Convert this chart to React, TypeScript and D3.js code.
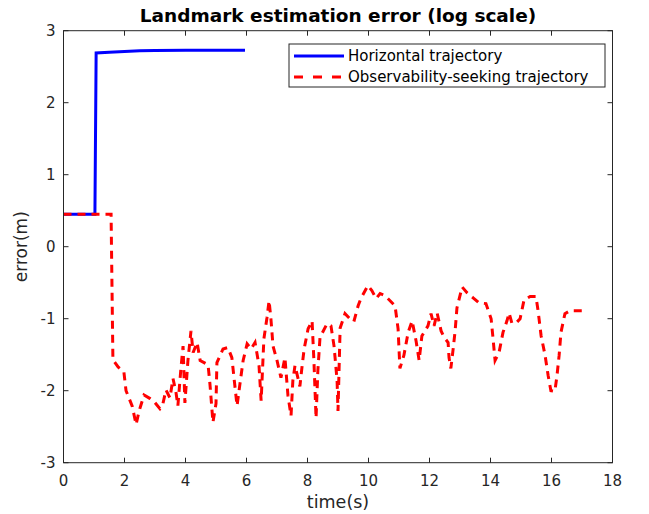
import * as d3 from "d3";
import React, { useEffect, useRef } from "react";

const width = 649;
const height = 514;
const margin = { top: 30.7, right: 36.5, bottom: 51.3, left: 63.5 };

const title = "Landmark estimation error (log scale)";
const xLabel = "time(s)";
const yLabel = "error(m)";
const xTicks = [0, 2, 4, 6, 8, 10, 12, 14, 16, 18];
const yTicks = [-3, -2, -1, 0, 1, 2, 3];
const seriesNames = ["Horizontal trajectory", "Observability-seeking trajectory"];

// horizontal trajectory
const blueTime = [0, 1.03, 1.07, 1.5, 2.0, 2.5, 3.0, 4.0, 5.0, 5.95];
const blueErr = [0.45, 0.45, 2.69, 2.70, 2.71, 2.72, 2.725, 2.73, 2.73, 2.73];

// observability-seeking trajectory
const redTime = [
    0, 1.56, 1.62, 1.79, 1.98, 2.05, 2.25, 2.38, 2.48, 2.64, 2.84, 2.97, 3.16, 3.26, 3.36, 3.49,
    3.59, 3.69, 3.75, 3.85, 3.92, 3.98, 4.08, 4.18, 4.25, 4.38, 4.48, 4.74, 4.8, 4.9, 5.0, 5.03,
    5.23, 5.39, 5.52, 5.59, 5.69, 5.79, 5.89, 6.02, 6.15, 6.28, 6.41, 6.48, 6.57, 6.67, 6.74, 6.8,
    6.87, 7.0, 7.13, 7.26, 7.36, 7.46, 7.52, 7.59, 7.75, 7.82, 7.89, 8.02, 8.15, 8.21, 8.28, 8.34,
    8.41, 8.64, 8.77, 8.87, 8.97, 9.0, 9.07, 9.23, 9.39, 9.52, 9.66, 9.75, 9.98, 10.11, 10.25, 10.38,
    10.54, 10.87, 10.97, 11.0, 11.03, 11.16, 11.3, 11.43, 11.56, 11.66, 11.75, 11.95, 12.05, 12.15,
    12.25, 12.38, 12.48, 12.61, 12.64, 12.7, 12.77, 12.84, 12.9, 13.07, 13.23, 13.43, 13.62, 13.85,
    14.02, 14.08, 14.15, 14.28, 14.41, 14.54, 14.61, 14.7, 14.84, 14.97, 15.1, 15.3, 15.49, 15.56,
    15.66, 15.79, 15.89, 15.98, 16.11, 16.18, 16.25, 16.31, 16.44, 16.61, 17.0,
];
const redErr = [
    0.45, 0.45, -1.57, -1.67, -1.74, -2.0, -2.21, -2.47, -2.28, -2.06, -2.11, -2.15, -2.25, -2.18, -1.99, -2.1,
    -1.83, -2.03, -2.21, -1.69, -1.38, -2.17, -1.58, -1.17, -1.47, -1.33, -1.58, -1.64, -1.9, -2.44, -2.18, -1.61,
    -1.42, -1.4, -1.54, -1.82, -2.21, -1.89, -1.58, -1.35, -1.42, -1.33, -1.65, -2.14, -1.28, -0.99, -0.75, -1.0,
    -1.38, -1.58, -1.82, -1.54, -2.07, -2.35, -1.86, -1.65, -1.94, -1.67, -1.42, -1.14, -1.03, -1.58, -2.38, -1.72,
    -1.26, -1.07, -1.1, -1.38, -1.86, -2.28, -1.13, -0.93, -1.0, -1.04, -0.82, -0.72, -0.54, -0.61, -0.72, -0.65,
    -0.68, -0.82, -1.14, -1.42, -1.69, -1.51, -1.19, -1.03, -1.31, -1.58, -1.24, -1.1, -0.93, -1.1,
    -0.92, -1.17, -1.26, -1.33, -1.54, -1.69, -1.44, -1.17, -0.85, -0.56, -0.64, -0.71, -0.78, -0.79,
    -1.0, -1.26, -1.58, -1.47, -1.19, -1.03, -0.92, -1.06, -1.06, -1.0, -0.74, -0.69, -0.69, -0.89,
    -1.24, -1.51, -1.79, -2.0, -2.01, -1.79, -1.51, -1.19, -0.93, -0.89, -0.89,
];

const axisColor = "#262626";
const font = "'DejaVu Sans', sans-serif";

const App: React.FC = () => {
    const wrapper = useRef<SVGSVGElement>(null);

    useEffect(() => {
        if (!wrapper.current) return;
        const chart = d3.select(wrapper.current);
        chart.selectAll("*").remove();

        const x = d3.scaleLinear().domain([0, 18]).range([margin.left, width - margin.right]);
        const y = d3.scaleLinear().domain([-3, 3]).range([height - margin.bottom, margin.top]);
        const [x0, x1] = x.range();
        const [y0, y1] = y.range();

        chart.append("rect")
            .attr("width", width)
            .attr("height", height)
            .attr("fill", "#fff");

        const line = d3.line<[number, number]>()
            .x((d) => x(d[0]))
            .y((d) => y(d[1]));

        const blue: Array<[number, number]> = blueTime.map((t, i) => [t, blueErr[i]]);
        const red: Array<[number, number]> = redTime.map((t, i) => [t, redErr[i]]);

        chart.append("path")
            .attr("d", line(blue))
            .attr("fill", "none")
            .attr("stroke", "#0000ff")
            .attr("stroke-width", 3);

        chart.append("path")
            .attr("d", line(red))
            .attr("fill", "none")
            .attr("stroke", "#ff0000")
            .attr("stroke-width", 3)
            .attr("stroke-dasharray", "8,6");

        // axes box with inward ticks
        const tickLen = 5;
        const ticks = chart.append("g").attr("stroke", axisColor).attr("stroke-width", 1);
        xTicks.forEach((t) => {
            ticks.append("line").attr("x1", x(t)).attr("x2", x(t)).attr("y1", y0).attr("y2", y0 - tickLen);
            ticks.append("line").attr("x1", x(t)).attr("x2", x(t)).attr("y1", y1).attr("y2", y1 + tickLen);
        });
        yTicks.forEach((v) => {
            ticks.append("line").attr("x1", x0).attr("x2", x0 + tickLen).attr("y1", y(v)).attr("y2", y(v));
            ticks.append("line").attr("x1", x1).attr("x2", x1 - tickLen).attr("y1", y(v)).attr("y2", y(v));
        });
        chart.append("rect")
            .attr("x", x0)
            .attr("y", y1)
            .attr("width", x1 - x0)
            .attr("height", y0 - y1)
            .attr("fill", "none")
            .attr("stroke", axisColor)
            .attr("stroke-width", 1);

        chart.append("g")
            .selectAll("text")
            .data(xTicks)
            .join("text")
            .attr("x", (d) => x(d))
            .attr("y", y0 + 23)
            .attr("text-anchor", "middle")
            .attr("font-family", font)
            .attr("font-size", 15)
            .attr("fill", axisColor)
            .text((d) => d);

        chart.append("g")
            .selectAll("text")
            .data(yTicks)
            .join("text")
            .attr("x", x0 - 8)
            .attr("y", (d) => y(d) + 5)
            .attr("text-anchor", "end")
            .attr("font-family", font)
            .attr("font-size", 15)
            .attr("fill", axisColor)
            .text((d) => d);

        chart.append("text")
            .attr("x", (x0 + x1) / 2)
            .attr("y", 508)
            .attr("text-anchor", "middle")
            .attr("font-family", font)
            .attr("font-size", 17.5)
            .attr("fill", axisColor)
            .text(xLabel);

        chart.append("text")
            .attr("transform", `translate(27, ${(y0 + y1) / 2}) rotate(-90)`)
            .attr("text-anchor", "middle")
            .attr("font-family", font)
            .attr("font-size", 17)
            .attr("fill", axisColor)
            .text(yLabel);

        chart.append("text")
            .attr("x", (x0 + x1) / 2)
            .attr("y", 22)
            .attr("text-anchor", "middle")
            .attr("font-family", font)
            .attr("font-size", 18.5)
            .attr("font-weight", "bold")
            .attr("fill", "#000")
            .text(title);

        // legend
        const legend = chart.append("g").attr("transform", "translate(289, 44)");
        legend.append("rect")
            .attr("width", 316)
            .attr("height", 43)
            .attr("fill", "#fff")
            .attr("stroke", axisColor)
            .attr("stroke-width", 1);
        const styles = [
            { color: "#0000ff", dash: null },
            { color: "#ff0000", dash: "9,10" },
        ];
        seriesNames.forEach((name, i) => {
            const ly = 12 + i * 21;
            legend.append("line")
                .attr("x1", 5)
                .attr("x2", 55)
                .attr("y1", ly)
                .attr("y2", ly)
                .attr("stroke", styles[i].color)
                .attr("stroke-width", 3)
                .attr("stroke-dasharray", styles[i].dash);
            legend.append("text")
                .attr("x", 59)
                .attr("y", ly + 5)
                .attr("font-family", font)
                .attr("font-size", 15)
                .attr("fill", "#000")
                .text(name);
        });
    }, []);

    return (
        <svg
            ref={wrapper}
            width={width}
            height={height}
            viewBox={`0 0 ${width} ${height}`}
            style={{ position: "absolute", left: 0, top: 0, display: "block" }}
        />
    );
};

export default App;
